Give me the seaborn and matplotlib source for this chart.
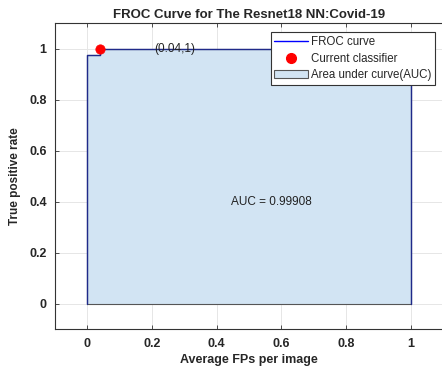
import matplotlib
matplotlib.use("Agg")
import matplotlib.pyplot as plt
import seaborn as sns
import pandas as pd
from matplotlib.patches import Patch
from matplotlib.lines import Line2D

fp_rate = [0.0, 0.0, 0.04, 0.04, 1.0, 1.0]
tp_rate = [0.0, 0.977, 0.977, 1.0, 1.0, 0.0]
classifier_x = [0.04]
classifier_y = [1.0]
auc_value = 0.99908
title = "FROC Curve for The Resnet18 NN:Covid-19"
x_label = "Average FPs per image"
y_label = "True positive rate"
ticks = [0, 0.2, 0.4, 0.6, 0.8, 1]
tick_labels = ["0", "0.2", "0.4", "0.6", "0.8", "1"]

sns.set_theme(style="whitegrid")
plt.rcParams['font.family'] = ['Liberation Sans', 'DejaVu Sans']

fig = plt.figure(figsize=(4.42, 3.71), dpi=100)
ax = fig.add_axes([0.1244, 0.112, 0.878, 0.825])

df = pd.DataFrame({"x": fp_rate, "y": tp_rate})
ax.fill_between(df["x"], df["y"], color="#d2e4f3", edgecolor="#555555", linewidth=0.8, zorder=1)
sns.lineplot(data=df, x="x", y="y", sort=False, estimator=None, color="#1f2a8a", linewidth=1.0, ax=ax, zorder=2)
sns.scatterplot(x=classifier_x, y=classifier_y, color="red", s=45, edgecolor="red", ax=ax, zorder=3)

ax.text(0.27, 1.0, "(%g,%g)" % (classifier_x[0], classifier_y[0]), ha="center", va="center", fontsize=8.5, color="#222222")
ax.text(0.445, 0.4, "AUC = %.5f" % auc_value, ha="left", va="center", fontsize=8.5, color="#222222")

ax.set_xlim(-0.1, 1.1)
ax.set_ylim(-0.1, 1.1)
ax.set_xticks(ticks)
ax.set_xticklabels(tick_labels, fontweight="bold", fontsize=9)
ax.set_yticks(ticks)
ax.set_yticklabels(tick_labels, fontweight="bold", fontsize=9)
ax.set_xlabel(x_label, fontweight="bold", fontsize=9, labelpad=3)
ax.set_ylabel(y_label, fontweight="bold", fontsize=8.5, labelpad=6)
ax.set_title(title, fontweight="bold", fontsize=9.5, pad=4)

ax.grid(True, color="#e6e6e6", linewidth=0.7)
for side in ["left", "bottom", "top"]:
    ax.spines[side].set_color("#333333")
    ax.spines[side].set_linewidth(0.8)
ax.spines["right"].set_visible(False)
ax.tick_params(axis="both", direction="in", length=3, width=0.6, color="#333333", pad=6, left=True, bottom=True)
ax.tick_params(axis="x", top=True)

handles = [
    Line2D([0], [0], color="blue", linewidth=1.0),
    Line2D([0], [0], marker="o", color="none", markerfacecolor="red", markeredgecolor="red", markersize=7),
    Patch(facecolor="#d2e4f3", edgecolor="#555555", linewidth=0.8),
]
labels = ["FROC curve", "Current classifier", "Area under curve(AUC)"]
leg = ax.legend(handles, labels, loc="upper right", bbox_to_anchor=(0.978, 0.971), fontsize=8.3,
                frameon=True, fancybox=False, borderpad=0.3, labelspacing=0.42, handlelength=2.9,
                handletextpad=0.25, borderaxespad=0.0)
leg.get_frame().set_edgecolor("#333333")
leg.get_frame().set_linewidth(0.8)
leg.get_frame().set_alpha(1)

fig.savefig("out.png", dpi=100)
